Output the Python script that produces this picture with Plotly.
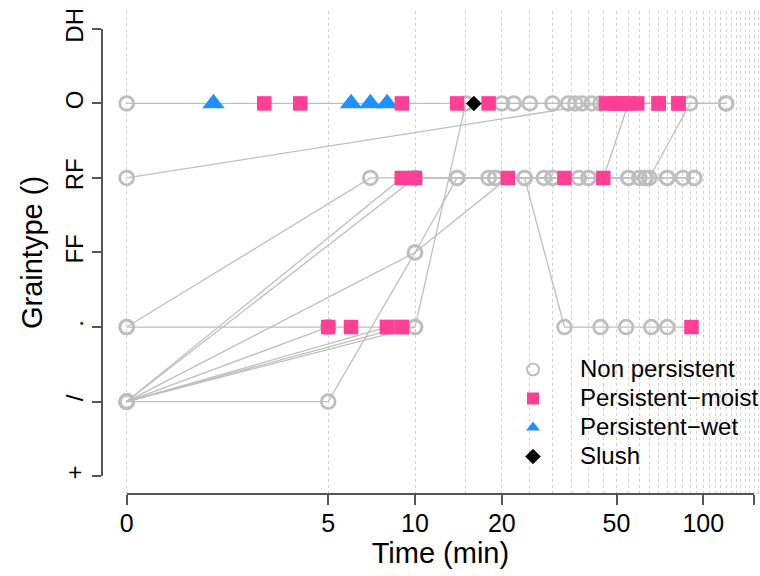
import numpy as np
import plotly.graph_objects as go

# ---------------------------------------------------------------------------
# Observations in long format: one entry per (sample, time) reading.
# Grain type codes run bottom -> top on the y axis.
# Class codes: N = Non persistent, M = Persistent-moist,
#              W = Persistent-wet,  S = Slush
# ---------------------------------------------------------------------------
obs_sample = (
    [1] * 21
    + [2] * 4
    + [3] * 10
    + [4] * 10
    + [5] * 8
    + [6] * 11
    + [7] * 10
    + [8] * 12
    + [9] * 2
    + [10] * 2
    + [11] * 2
    + [12] * 2
)

obs_time = [
    0, 2, 3, 4, 6, 7, 8, 9, 14, 16, 18, 22, 30, 36, 41, 49, 52, 59, 70, 82, 120,
    0, 44, 46, 70,
    0, 7, 10, 14, 19, 28, 37, 45, 55, 82,
    0, 9, 18, 30, 40, 55, 60, 65, 90, 120,
    0, 10, 24, 33, 63, 75, 85, 93,
    0, 5, 10, 14, 19, 30, 40, 55, 63, 75, 93,
    0, 10, 21, 24, 33, 44, 54, 66, 75, 91,
    0, 5, 6, 8, 9, 10, 15, 20, 25, 34, 38, 52,
    0, 5,
    0, 8,
    0, 9,
    0, 10,
]

obs_grain = [
    "O", "O", "O", "O", "O", "O", "O", "O", "O", "O", "O", "O", "O", "O", "O",
    "O", "O", "O", "O", "O", "O",
    "RF", "O", "O", "O",
    ".", "RF", "RF", "RF", "RF", "RF", "RF", "RF", "O", "O",
    "/", "RF", "RF", "RF", "RF", "RF", "RF", "RF", "O", "O",
    "/", "RF", "RF", "RF", "RF", "RF", "RF", "RF",
    "/", "/", "FF", "RF", "RF", "RF", "RF", "RF", "RF", "RF", "RF",
    "/", "FF", "RF", "RF", ".", ".", ".", ".", ".", ".",
    ".", ".", ".", ".", ".", ".", "O", "O", "O", "O", "O", "O",
    "/", ".",
    "/", ".",
    "/", ".",
    "/", ".",
]

obs_class = [
    "N", "W", "M", "M", "W", "W", "W", "M", "M", "S", "M", "N", "N", "N", "N",
    "M", "M", "M", "M", "M", "N",
    "N", "N", "M", "M",
    "N", "N", "N", "N", "N", "N", "N", "M", "M", "M",
    "N", "M", "N", "N", "N", "N", "N", "N", "N", "N",
    "N", "M", "N", "M", "N", "N", "N", "N",
    "N", "N", "N", "N", "N", "N", "N", "N", "N", "N", "N",
    "N", "N", "M", "N", "N", "N", "N", "N", "N", "M",
    "N", "N", "M", "M", "M", "N", "N", "N", "N", "N", "N", "M",
    "N", "M",
    "N", "M",
    "N", "M",
    "N", "N",
]

grain_levels = ["+", "/", ".", "FF", "RF", "O", "DH"]

time_ticks = [0, 5, 10, 20, 50, 100, 150]
time_tick_labels = ["0", "5", "10", "20", "50", "100", ""]
grid_step_min = 5
grid_max_min = 160

class_names = ["N", "M", "W", "S"]
class_labels = ["Non persistent", "Persistent\u2212moist", "Persistent\u2212wet", "Slush"]

# ---------------------------------------------------------------------------
FONT = "Liberation Sans, Arial, Helvetica, sans-serif"
LINE_GREY = "#BEBEBE"
AXIS_COL = "#555555"

styles = {
    "N": dict(symbol="circle-open", size=13.8, color=LINE_GREY,
              line=dict(width=2.8, color=LINE_GREY)),
    "M": dict(symbol="square", size=14.5, color="#FF3E96",
              line=dict(width=0)),
    "W": dict(symbol="triangle-up", size=19.5, color="#1E90FF",
              line=dict(width=0)),
    "S": dict(symbol="diamond", size=12, color="#000000",
              line=dict(width=0)),
}
draw_order = ["N", "W", "M", "S"]
legend_rank = {c: i for i, c in enumerate(class_names)}

t = np.array(obs_time, dtype=float)
# Time zero sits at the 1-minute position of the log axis (labelled "0").
t_plot = np.where(t <= 0, 1.0, t)
g_pos = np.array([grain_levels.index(g) + 1 for g in obs_grain], dtype=float)
samples = np.array(obs_sample)
classes = np.array(obs_class)

fig = go.Figure()

# connecting lines, one path per sample, separated by gaps
lx, ly = [], []
for s in dict.fromkeys(obs_sample):
    idx = np.where(samples == s)[0]
    order = idx[np.argsort(t[idx], kind="stable")]
    lx += [float(v) for v in t_plot[order]] + [None]
    ly += [float(v) for v in g_pos[order]] + [None]
fig.add_trace(go.Scatter(
    x=lx, y=ly, mode="lines",
    line=dict(color=LINE_GREY, width=1.3),
    showlegend=False, hoverinfo="skip",
))

# markers per class (legend text larger than the legend row pitch font)
for c in draw_order:
    m = classes == c
    st = styles[c]
    label = class_labels[class_names.index(c)]
    fig.add_trace(go.Scatter(
        x=t_plot[m].tolist(), y=g_pos[m].tolist(), mode="markers",
        name=f"<span style='font-size:24px'>{label}</span>",
        legendrank=legend_rank[c] + 1,
        marker=dict(symbol=st["symbol"], size=st["size"], color=st["color"],
                    line=st["line"]),
        hovertemplate=label + ": %{x} min<extra></extra>",
    ))

# empty trace that carries the visible tick axes
fig.add_trace(go.Scatter(x=[], y=[], xaxis="x2", yaxis="y2",
                         showlegend=False, hoverinfo="skip"))

# plot-area geometry (pixels)
W, H = 760, 576
ML, MR, MT, MB = 102, 0, 11, 82
px_per_decade = 288.3
x0_px = 126.7                     # pixel of the 1-minute position
plot_w = W - ML - MR
plot_h = H - MT - MB
x_lo = (ML - x0_px) / px_per_decade
x_hi = (W - MR - x0_px) / px_per_decade

y_pad = 0.04 * (len(grain_levels) - 1)
y_lo, y_hi = 1 - y_pad, len(grain_levels) + y_pad
y_span = y_hi - y_lo

tick_plot = [max(v, 1) for v in time_ticks]
x2_lo = float(np.log10(tick_plot[0]))
x2_hi = float(np.log10(tick_plot[-1]))
dom_x = [(x0_px + x2_lo * px_per_decade - ML) / plot_w,
         (x0_px + x2_hi * px_per_decade - ML) / plot_w]
dom_y = [(1 - y_lo) / y_span, (len(grain_levels) - y_lo) / y_span]

grid_vals = [1] + list(range(grid_step_min, grid_max_min + 1, grid_step_min))

fig.update_layout(
    width=W, height=H,
    margin=dict(l=ML, r=MR, t=MT, b=MB, pad=0, autoexpand=False),
    paper_bgcolor="white", plot_bgcolor="rgba(0,0,0,0)",
    font=dict(family=FONT, color="#000000"),
    showlegend=True,
    legend=dict(
        x=(486 - ML) / plot_w, xanchor="left",
        y=(H - MB - 350) / plot_h, yanchor="top",
        font=dict(size=20, family=FONT, color="#000000"),
        bgcolor="rgba(0,0,0,0)", borderwidth=0,
        itemsizing="constant", itemwidth=84, tracegroupgap=0,
    ),
    xaxis=dict(
        type="log", range=[x_lo, x_hi], automargin=False,
        tickmode="array", tickvals=grid_vals,
        showticklabels=False, ticks="",
        showgrid=True, gridcolor="#D0D0D0", gridwidth=1, griddash="dot",
        showline=False, zeroline=False,
    ),
    yaxis=dict(
        range=[y_lo, y_hi], automargin=False,
        showgrid=False, showticklabels=False,
        ticks="", zeroline=False, showline=False,
    ),
    xaxis2=dict(
        type="log", domain=dom_x, range=[x2_lo, x2_hi], automargin=False,
        anchor="free", position=0,
        tickmode="array", tickvals=tick_plot, ticktext=time_tick_labels,
        ticks="outside", ticklen=10, tickwidth=1.6, tickcolor=AXIS_COL,
        showline=True, linecolor=AXIS_COL, linewidth=1.6,
        showgrid=False, zeroline=False, ticklabelstandoff=-3,
        tickfont=dict(size=25, family=FONT, color="#000000"),
        title=dict(text="Time (min)", font=dict(size=29, family=FONT),
                   standoff=4),
    ),
    yaxis2=dict(
        domain=dom_y, range=[1, len(grain_levels)], automargin=False,
        anchor="free", position=0,
        tickmode="array", tickvals=list(range(1, len(grain_levels) + 1)),
        ticktext=grain_levels, tickangle=-90,
        ticks="outside", ticklen=9, tickwidth=1.6, tickcolor=AXIS_COL,
        showline=True, linecolor=AXIS_COL, linewidth=1.6,
        showgrid=False, zeroline=False,
        tickfont=dict(size=24, family=FONT, color="#000000"),
        title=dict(text="Graintype ()", font=dict(size=29, family=FONT),
                   standoff=8),
    ),
)

fig.write_html("out.html")
